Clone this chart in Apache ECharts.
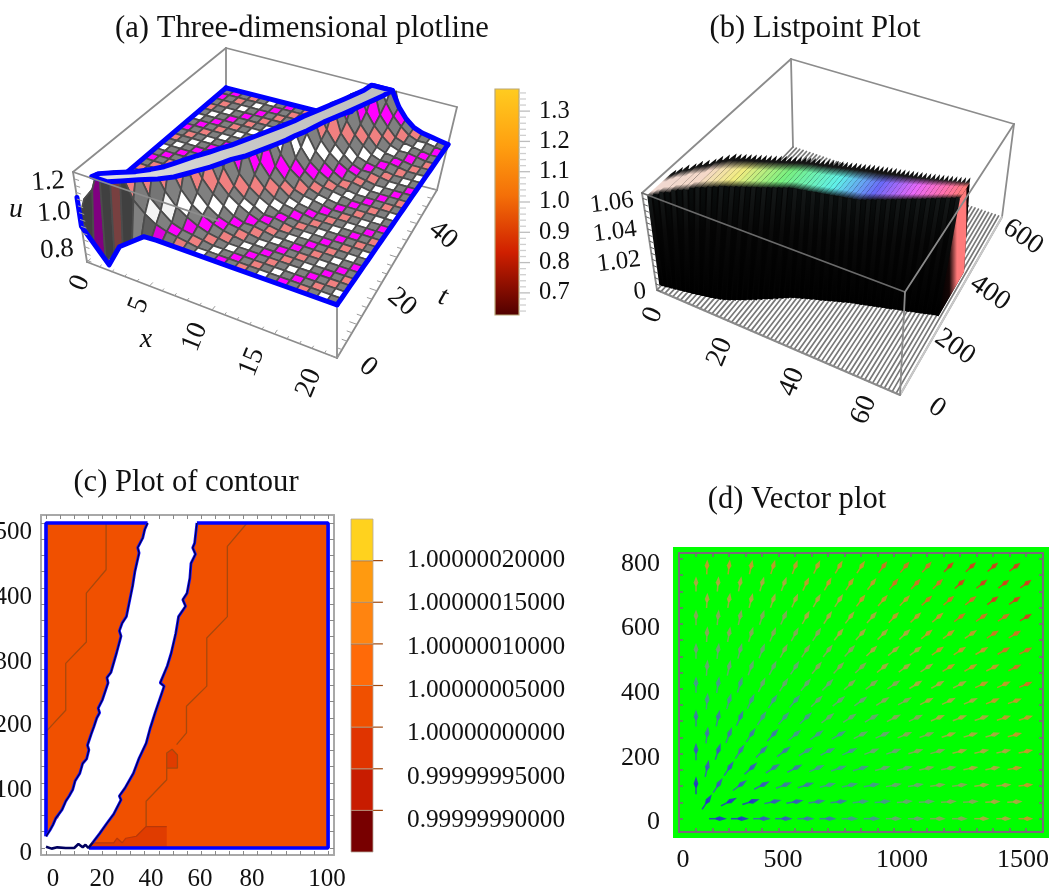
<!DOCTYPE html>
<html><head><meta charset="utf-8">
<style>html,body{margin:0;padding:0;background:#fff}#main{width:1049px;height:893px;filter:blur(0.45px)}</style>
<script src="https://cdn.jsdelivr.net/npm/echarts@6/dist/echarts.min.js"></script>
</head><body><div id="main"></div>
<script>
// ---------- panel (a) data ----------
const surfaceX=[0,.8,1.6,2.4,3.2,4,4.8,5.6,6.4,7.2,8,8.8,9.6,10.4,11.2,12,12.8,13.6,14.4,15.2,16,16.8,17.6,18.4,19.2,20];
const surfaceT=[0,2,4,6,8,10,12,14,16,18,20,22,24,26,28,30,32,34,36,38,40,42,44,46,48,50];
const surfaceU=[
[.98,.84,.76,.82,.9,.94,.985,1,1,1,1,1,1,1,1,1,1,1,1,1,1,1,1,1,1,1],
[1.05,1.13,1.3,1.3,1.3,1.15,1.09,1.05,1.03,1.02,1.01,1,1,1,1,1,1,1,1,1,1,1,1,1,1,1],
[1.02,1.04,1.1,1.3,1.3,1.3,1.16,1.1,1.05,1.03,1.02,1.01,1,1,1,1,1,1,1,1,1,1,1,1,1,1],
[1.01,1.01,1.03,1.08,1.2,1.3,1.3,1.18,1.11,1.07,1.04,1.02,1.01,1,1,1,1,1,1,1,1,1,1,1,1,1],
[1,1,1.01,1.03,1.09,1.22,1.3,1.3,1.18,1.11,1.07,1.04,1.02,1.01,1,1,1,1,1,1,1,1,1,1,1,1],
[1,1,1,1.02,1.05,1.11,1.3,1.3,1.3,1.15,1.09,1.05,1.03,1.02,1.01,1,1,1,1,1,1,1,1,1,1,1],
[1,1,1,1.01,1.03,1.08,1.18,1.3,1.3,1.2,1.13,1.08,1.04,1.02,1.02,1.01,1,1,1,1,1,1,1,1,1,1],
[1,1,1,1,1.02,1.05,1.11,1.3,1.3,1.3,1.17,1.11,1.07,1.04,1.02,1.01,1,1,1,1,1,1,1,1,1,1],
[1,1,1,1,1.01,1.03,1.08,1.18,1.3,1.3,1.22,1.13,1.08,1.05,1.02,1.02,1.01,1,1,1,1,1,1,1,1,1],
[1,1,1,1,1.01,1.02,1.04,1.1,1.3,1.3,1.3,1.17,1.11,1.07,1.04,1.02,1.01,1,1,1,1,1,1,1,1,1],
[1,1,1,1,1,1.01,1.03,1.07,1.16,1.3,1.3,1.3,1.15,1.09,1.05,1.03,1.02,1.01,1,1,1,1,1,1,1,1],
[1,1,1,1,1,1.01,1.02,1.04,1.09,1.22,1.3,1.3,1.19,1.12,1.08,1.04,1.02,1.01,1,1,1,1,1,1,1,1],
[1,1,1,1,1,1,1.01,1.02,1.06,1.15,1.3,1.3,1.3,1.15,1.09,1.05,1.03,1.02,1.01,1,1,1,1,1,1,1],
[1,1,1,1,1,1,1.01,1.02,1.04,1.09,1.22,1.3,1.3,1.19,1.12,1.08,1.04,1.02,1.01,1,1,1,1,1,1,1],
[1,1,1,1,1,1,1,1.01,1.02,1.06,1.15,1.3,1.3,1.3,1.15,1.09,1.05,1.03,1.02,1.01,1,1,1,1,1,1],
[1,1,1,1,1,1,1,1.01,1.02,1.04,1.09,1.22,1.3,1.3,1.18,1.11,1.07,1.04,1.02,1.01,1,1,1,1,1,1],
[1,1,1,1,1,1,1,1,1.01,1.02,1.06,1.15,1.3,1.3,1.23,1.14,1.09,1.05,1.02,1.02,1.01,1,1,1,1,1],
[1,1,1,1,1,1,1,1,1.01,1.02,1.04,1.09,1.22,1.3,1.3,1.17,1.11,1.07,1.04,1.02,1.01,1,1,1,1,1],
[1,1,1,1,1,1,1,1,1,1.01,1.03,1.07,1.16,1.3,1.3,1.2,1.13,1.08,1.04,1.02,1.02,1.01,1,1,1,1],
[1,1,1,1,1,1,1,1,1,1.01,1.02,1.04,1.1,1.3,1.3,1.3,1.16,1.1,1.05,1.03,1.02,1.01,1,1,1,1],
[1,1,1,1,1,1,1,1,1,1,1.01,1.03,1.07,1.16,1.3,1.3,1.2,1.13,1.08,1.04,1.02,1.02,1.01,1,1,1],
[1,1,1,1,1,1,1,1,1,1,1.01,1.02,1.04,1.1,1.3,1.3,1.3,1.16,1.1,1.05,1.03,1.02,1.01,1,1,1],
[1,1,1,1,1,1,1,1,1,1,1,1.01,1.03,1.07,1.16,1.3,1.3,1.2,1.13,1.08,1.04,1.02,1.02,1.01,1,1],
[1,1,1,1,1,1,1,1,1,1,1,1.01,1.02,1.04,1.1,1.3,1.3,1.3,1.16,1.1,1.05,1.03,1.02,1.01,1,1],
[1,1,1,1,1,1,1,1,1,1,1,1,1.01,1.03,1.07,1.16,1.3,1.3,1.2,1.13,1.08,1.04,1.02,1.02,1.01,1],
[1,1,1,1,1,1,1,1,1,1,1,1,1.01,1.02,1.05,1.13,1.3,1.3,1.3,1.15,1.09,1.05,1.03,1.02,1.01,1]];
const plateauT=[.5,2,4,6,8,10,12,14,16,18,20,22,24,26,28,30,32,34,36,38,40,42,44,46,48,50];
const plateauL=[1.3,1.5,2.4,3.4,4.1,4.7,5.1,5.5,5.9,6.4,6.8,7.3,7.7,8.1,8.5,8.9,9.3,9.7,10,10.4,10.8,11.2,11.6,12,12.4,12.6];
const plateauR=[2.5,3.2,4.1,5.1,5.9,6.4,6.9,7.4,7.8,8.2,8.8,9.2,9.6,10,10.4,10.7,11.1,11.4,11.7,12.1,12.5,12.9,13.3,13.7,14.1,14.4];
const frontEdgeX=[0,0,1.84,2.9,4,5,6,8,12,16,20];
const frontEdgeU=[1.09,.92,.745,.88,.94,.995,1,1,1,1,1];
const clipU=1.24;
const xTicksA=['0','5','10','15','20'], tTicksA=['0','20','40'], uTicksA=['0.8','1.0','1.2'];
// ---------- panel (b) data ----------
const blockFoot=[20,22,25,27,30,32,35,37,40,43,46,49,52,56,60,66,73,80,87,95,102,110,118,125,133,141,149,156,161,166,171,175,180,184,189,193,198,202,206,211,215,218,221,225,228,231,234,238,241,244,248,251,254,257,261,264,267,270,274,277,280];
const blockCrest=[26,35,44,52,61,70,78,87,96,104,113,121,130,136,142,148,154,160,166,172,178,184,190,196,202,208,211,213,216,218,221,224,226,229,231,234,237,239,242,244,247,253,259,265,271,276,282,288,294,300,306,312,317,323,329,335,341,347,352,358,364];
const blockBack=[130,142,154,167,179,191,203,216,228,240,245,250,255,260,265,270,275,280,285,290,295,300,305,310,313,317,320,323,327,330,333,337,340,343,347,350,353,357,360,363,365,368,370,373,375,378,380,383,385,388,390,393,396,399,402,405,408,411,414,417,420];
const blockTop=[1.058,1.059,1.06,1.06,1.061,1.061,1.061,1.062,1.062,1.062,1.062,1.062,1.062,1.062,1.062,1.062,1.062,1.062,1.062,1.062,1.062,1.062,1.062,1.062,1.062,1.062,1.062,1.062,1.062,1.062,1.062,1.062,1.062,1.062,1.062,1.062,1.062,1.062,1.062,1.062,1.062,1.062,1.062,1.062,1.062,1.062,1.062,1.062,1.062,1.062,1.062,1.062,1.062,1.062,1.062,1.062,1.062,1.062,1.062,1.062,1.062];
const xTicksB=['0','20','40','60'], tTicksB=['0','200','400','600'], uTicksB=['0','1.02','1.04','1.06'];
// ---------- panel (c) data ----------
const leftEdge=[[0,18],[1.5,28],[2.5,36],[3.5,46],[4.2,45],[5.7,59],[7,72],[8.2,80],[9.5,90],[10.3,103],[12,115],[13,130],[14.4,137],[15.2,151],[14.7,158],[16,175],[17,187],[18,200],[19,208],[18.5,215],[20,228],[22,254],[21.6,262],[23,270],[24,285],[25,300],[26.6,326],[26,334],[27,346],[28.5,356],[30.7,403],[31.5,425],[33,454],[32.5,462],[34.3,477],[35,490],[36,500]];
const rightEdge=[[16.5,8],[19,22],[21.6,38],[24,52],[26.6,74],[26,80],[28,92],[31,115],[33,138],[35.5,161],[37,185],[38.7,208],[41.9,249],[40.5,254],[43,280],[44.4,300],[46,330],[47,356],[49.5,372],[48.5,382],[50,392],[51,415],[51.4,438],[53,452],[52,462],[52.7,469],[53.5,500]];
const bottomEdge=[[0,2],[2,-1],[4,1],[7,0],[10,0],[11.5,6],[13,1],[14,5],[15,0],[16.5,8]];
const contourA=[[0,179],[7,212],[7,284],[14.3,317],[14.3,392],[21.3,428],[21.3,500]];
const contourB=[[46.3,159],[49.8,177],[49.8,218],[57,249],[57,323],[64.3,356],[64.3,464],[71.3,500]];
const contourC=[[35.5,33],[35.5,72],[42.8,105],[42.8,146],[44.7,152],[46.6,143],[46.6,123],[42.8,123]];
const lowRegion=[[16.5,8],[24,8],[25.2,15],[27,8],[28.3,15],[32,18],[35.5,33],[42.8,33],[42.8,0],[15.2,0]];
const lowSpot=[[42.8,146],[44.7,152],[46.6,143],[46.6,123],[42.8,123]];
const legendLevels=[.99999985,.9999999,.99999995,1,1.00000005,1.0000001,1.00000015,1.0000002,1.00000025];
const legendColors=['#780000','#C81C00','#E03400','#F05000','#FF6A08','#FF8410','#FF9A10','#FFD21E'];
const legendLabels=['1.00000020000','1.00000015000','1.00000010000','1.00000005000','1.00000000000','0.99999995000','0.99999990000'];
const xLabelsC=['0','20','40','60','80','100'], yLabelsC=['500','400','300','200','100','0'];
// ---------- panel (d) data ----------
const arrowRowY=[0,52,103,155,207,258,310,362,413,465,517,568,620,672,723,775];
const arrowAngle=[
[0,0,0,0,0,0,0,0,0,0,0,0,0,0,0],
[57,27,17,12,10,8,7,6,5,5,4,4,4,3,3],
[90,57,37,27,21,17,14,12,11,10,9,8,7,7,6,6],
[78,57,43,33,27,23,19,17,15,14,12,11,10,10,9],
[90,72,57,46,37,31,27,24,21,19,17,16,14,13,12,12],
[83,69,57,48,40,35,30,27,24,22,20,18,17,16,15],
[90,78,66,57,49,43,37,33,30,27,25,23,21,19,18,17],
[85,74,65,57,50,44,39,36,32,29,27,25,23,22,20],
[90,81,72,64,57,51,46,41,37,34,31,29,27,25,24,22],
[86,78,70,63,57,51,47,43,39,36,33,31,29,27,25],
[90,83,75,69,62,57,52,48,44,40,37,35,33,30,29,27],
[87,80,73,67,62,57,52,48,45,42,39,36,34,32,30],
[90,84,78,72,66,61,57,53,49,46,43,40,37,35,33,31],
[87,81,76,71,66,61,57,53,49,46,43,41,38,36,34],
[90,85,79,74,70,65,61,57,53,50,47,44,42,39,37,36],
[88,83,78,73,69,64,60,57,53,50,48,45,43,40,38]];
const arrowSpeed=['001122334455667','000112233445566','0111223334455667','111223334455667','1122233344556667','222233344556667','2223334445566677','333334445566677','3334444555666778','444445556667778','4444555566677788','555555666677788','5555566667778889','666666677788899','6666677778889999','777777778889999'];
const arrowPalette=['#2A2AD0','#3C50C8','#4470B0','#4C9098','#70A078','#90A060','#B8A048','#D09030','#DC6828','#E03020'];
const xLabelsD=['0','500','1000','1500'], yLabelsD=['800','600','400','200','0'];
// ---------- panel (a) colour bar ----------
const barLabels=[.7,.8,.9,1,1.1,1.2,1.3];
const barMinor=[.64,.66,.68,.7,.72,.74,.76,.78,.8,.82,.84,.86,.88,.9,.92,.94,.96,.98,1,1.02,1.04,1.06,1.08,1.1,1.12,1.14,1.16,1.18,1.2,1.22,1.24,1.26,1.28,1.3,1.32,1.34,1.36];
const tickC_X=[0,5,10,15,20,25,30,35,40,45,50,55,60,65,70,75,80,85,90,95,100];
const tickC_Y=[0,25,50,75,100,125,150,175,200,225,250,275,300,325,350,375,400,425,450,475,500];
const tickD_X=[0,75,150,225,300,375,450,525,600,675,750,825,900,975,1050,1125,1200,1275,1350,1425,1500];
const tickD_Y=[0,50,100,150,200,250,300,350,400,450,500,550,600,650,700,750,800];

// ---------- layout ----------
const serif='"Liberation Serif","Times New Roman",serif';
function makeProj(b,t,xr,tr,ur){
  return (x,tt,u)=>{
    const fx=(x-xr[0])/(xr[1]-xr[0]),ft=(tt-tr[0])/(tr[1]-tr[0]),fu=(u-ur[0])/(ur[1]-ur[0]);
    const bl=c=>{const q=k=>(c[0][k]*(1-fx)+c[1][k]*fx)*(1-ft)+(c[3][k]*(1-fx)+c[2][k]*fx)*ft;return [q(0),q(1)];};
    const p=bl(b),r=bl(t);
    return [p[0]*(1-fu)+r[0]*fu,p[1]*(1-fu)+r[1]*fu];
  };
}
const pA=makeProj([[87,262],[337,358],[437,190],[226,136]],[[73,172],[337,261],[457,107],[226,48]],[0,20],[0,50],[.71,1.24]);
const pB=makeProj([[657,290],[900,395],[1002,217],[793,147]],[[642,193],[905,292],[1014,124],[791,59]],[0,62],[0,650],[1,1.0635]);

function shade(hex,f){const n=parseInt(hex.slice(1),16);const c=[n>>16&255,n>>8&255,n&255].map(v=>Math.round(v*f));return `rgb(${c[0]},${c[1]},${c[2]})`;}
function clipPoly(v,lim){const o=[];for(let k=0;k<v.length;k++){const a=v[k],b=v[(k+1)%v.length];const ia=a[2]<=lim,ib=b[2]<=lim;if(ia)o.push(a);if(ia!==ib){const s=(lim-a[2])/(b[2]-a[2]);o.push([a[0]+(b[0]-a[0])*s,a[1]+(b[1]-a[1])*s,lim]);}}return o;}

// generic drawing through the hidden full-page pixel axes
function polys(items,z){
  return {type:'custom',xAxisIndex:0,yAxisIndex:0,z:z||2,silent:true,progressive:0,clip:false,animation:false,
    data:items.map((_,i)=>[i,0]),encode:{x:0,y:1},
    renderItem:(p,api)=>{const it=items[p.dataIndex];
      const pts=it.pts.map(q=>api.coord(q));
      return {type:it.closed===false?'polyline':'polygon',shape:{points:pts},
        style:{fill:it.closed===false?'none':it.fill,stroke:it.stroke||null,lineWidth:it.lw||0,lineJoin:'round',lineCap:'round'}};}};
}
function texts(items,z){
  return {type:'custom',xAxisIndex:0,yAxisIndex:0,z:z||5,silent:true,progressive:0,clip:false,animation:false,
    data:items.map((_,i)=>[i,0]),encode:{x:0,y:1},
    renderItem:(p,api)=>{const it=items[p.dataIndex];const c=api.coord([it.x,it.y]);
      return {type:'text',x:c[0],y:c[1],rotation:(it.r||0)*Math.PI/180,
        style:{text:it.t,fontFamily:serif,fontSize:it.s||25,fontStyle:it.i?'italic':'normal',fill:'#111',align:it.a||'center',verticalAlign:'middle'}};}};
}
const series=[];
const boxGrey='#8c8c8c';
// --- panel a ---
{
  const seg=(a,b,c,lw)=>({pts:[pA(...a),pA(...b)],closed:false,stroke:c||boxGrey,lw:lw||1.8});
  const back=[seg([0,50,.71],[0,50,1.24]),seg([0,50,1.24],[20,50,1.24]),seg([0,0,1.24],[0,50,1.24]),seg([0,0,.71],[0,0,1.24]),seg([20,50,.71],[20,50,1.24]),seg([20,50,.71],[14,50,.71])];
  series.push(polys(back,2));
  const cols=['#FF00FF','#F08080','#FFFFFF'];
  const cells=[];
  for(let i=0;i<surfaceX.length-1;i++)for(let j=surfaceT.length-2;j>=0;j--){
    const U=surfaceU;
    const v=[[surfaceX[i],surfaceT[j],U[j][i]],[surfaceX[i+1],surfaceT[j],U[j][i+1]],[surfaceX[i+1],surfaceT[j+1],U[j+1][i+1]],[surfaceX[i],surfaceT[j+1],U[j+1][i]]];
    const c=clipPoly(v,clipU); if(c.length<3)continue;
    const base=(i+j)%2===0?'#808080':cols[(((i-j-1)/2)%3+3)%3];
    const du=(U[j][i+1]+U[j+1][i+1]-U[j][i]-U[j+1][i])/2/.8;
    const dt=(U[j+1][i]+U[j+1][i+1]-U[j][i]-U[j][i+1])/2/2;
    const k=1-0.5*Math.max(0,Math.min(1,(dt*2.5-Math.max(0,-du))/.15));
    cells.push({pts:c.map(q=>pA(...q)),fill:shade(base,k),stroke:'#4c4c4c',lw:1.7});
  }
  series.push(polys(cells,3));
  const blue='#0000FF';
  const edge=[];
  edge.push({pts:surfaceT.slice(8).map((t,j)=>pA(0,t,surfaceU[j+8][0])),closed:false,stroke:blue,lw:5});
  edge.push({pts:surfaceX.map((x,i)=>pA(x,50,Math.min(clipU,surfaceU[25][i]))),closed:false,stroke:blue,lw:5});
  edge.push({pts:surfaceT.map((t,j)=>pA(20,t,surfaceU[j][25])),closed:false,stroke:blue,lw:5});
  edge.push({pts:frontEdgeX.map((x,i)=>pA(x,0,frontEdgeU[i])),closed:false,stroke:blue,lw:5});
  series.push(polys(edge,3));
  const top=[];
  plateauT.forEach((t,j)=>top.push(pA(plateauL[j],t,clipU)));
  for(let j=plateauT.length-1;j>=0;j--)top.push(pA(plateauR[j],plateauT[j],clipU));
  series.push(polys([{pts:top,fill:{type:'linear',x:0,y:1,x2:1,y2:0,colorStops:[{offset:0,color:'#E4E4E4'},{offset:.5,color:'#C8C8C8'},{offset:1,color:'#BEBEBE'}]},stroke:blue,lw:5}],3));
  const front=[seg([0,0,1.24],[11,0,1.24]),seg([0,0,.71],[20,0,.71]),seg([20,0,.71],[20,50,.71]),seg([20,0,.71],[20,0,.98])];
  const xs=[];for(let x=0;x<=20;x+=1)xs.push(seg([x,0,.71],[x,x%5===0?1.2:.7,.71],'#9a9a9a',1));
  for(let t=0;t<=50;t+=2.5)xs.push(seg([20,t,.71],[t%10===0?19.4:19.6,t,.71],'#9a9a9a',1));
  for(let u=.72;u<=1.24;u+=.04)xs.push(seg([0,0,u],[.35,0,u],'#9a9a9a',1));
  series.push(polys(front.concat(xs),4));
  series.push(texts([
    ...[[80,283],[139,305],[195,337],[252,362],[309,383]].map((q,i)=>({x:q[0],y:q[1],t:xTicksA[i],r:68,s:28})),
    ...[[368,367],[402,302],[443,235]].map((q,i)=>({x:q[0],y:q[1],t:tTicksA[i],r:-40,s:28})),
    ...[[57,250],[54,213],[48,182]].map((q,i)=>({x:q[0],y:q[1],t:uTicksA[i],r:4,s:27})),
    {x:146,y:340,t:'x',i:1,s:28},{x:443,y:297,t:'t',i:1,s:28,r:-20},{x:16,y:210,t:'u',i:1,s:28}
  ]));
}
// --- panel b ---
{
  const seg=(a,b,c,lw)=>({pts:[pB(...a),pB(...b)],closed:false,stroke:c||boxGrey,lw:lw||1.8});
  const back=[seg([0,650,1],[0,650,1.0635]),seg([0,650,1.0635],[62,650,1.0635]),seg([0,0,1.0635],[0,650,1.0635]),seg([62,650,1],[62,650,1.0635]),seg([0,0,1],[0,0,1.0635])];
  const floor=[];for(let x=0;x<=62;x++)floor.push({pts:[pB(x,0,1),pB(x,650,1)],closed:false,stroke:'#787878',lw:1.7});
  floor.push(seg([62,0,1],[62,650,1],'#c8c8c8',2),seg([0,0,1],[62,0,1],'#8a8a8a',2));
  series.push(polys(back.concat(floor),2));
  const hue=[[0,'#F0D8D0'],[7,'#F5D8C8'],[13,'#F0EC80'],[22,'#78F080'],[33,'#60F0E8'],[42,'#6A6AF8'],[50,'#E868F8'],[56,'#FF70B0'],[60,'#FF7A7A']];
  const mix=(i)=>{let a=hue[0],b=hue[hue.length-1];for(let k=0;k<hue.length-1;k++)if(i>=hue[k][0]&&i<=hue[k+1][0]){a=hue[k];b=hue[k+1];break;}
    const f=(i-a[0])/(b[0]-a[0]||1),pa=parseInt(a[1].slice(1),16),pb=parseInt(b[1].slice(1),16);
    const g=s=>Math.round((pa>>s&255)*(1-f)+(pb>>s&255)*f);return `rgb(${g(16)},${g(8)},${g(0)})`;};
  const items=[];
  const last=blockFoot.length-1;
  // solid dark silhouette behind the columns
  const under=[];
  blockFoot.forEach((foot,i)=>under.push(pB(i,foot,1)));
  under.push(pB(last+.5,blockFoot[last],1),pB(last+.5,blockBack[last]+22,1),pB(last+.5,blockBack[last],blockTop[last]));
  for(let i=last;i>=0;i--)under.push(pB(i,blockBack[i],blockTop[i]));
  under.push(pB(0,blockCrest[0],blockTop[0]));
  items.push({pts:under,fill:'#040404'});
  blockFoot.forEach((foot,i)=>{
    const w=.5,crest=blockCrest[i],backT=blockBack[i],z=blockTop[i],c=mix(i);
    items.push({pts:[pB(i-w,crest,z),pB(i+w,crest,z),pB(i+w,backT,z),pB(i,backT+16,z+.001),pB(i-w,backT,z)],
      fill:{type:'linear',x:0,y:1,x2:0,y2:0,colorStops:[{offset:0,color:'#0a0c0c'},{offset:.22,color:c},{offset:.55,color:c},{offset:.8,color:'#181818'},{offset:1,color:'#000'}]}});
    items.push({pts:[pB(i-w,foot,1),pB(i+w,foot,1),pB(i+w,crest,z),pB(i-w,crest,z)],
      fill:{type:'linear',x:0,y:1,x2:0,y2:0,colorStops:[{offset:0,color:'#000'},{offset:.6,color:i%2?'#040404':'#0a0a0a'},{offset:1,color:i%2?'#0a0e0e':'#141818'}]}});
  });
  items.push({pts:[pB(last+.5,blockFoot[last],1),pB(last+.5,blockCrest[last],blockTop[last]),pB(last+.5,blockBack[last],blockTop[last]),pB(last+.5,blockBack[last]+22,1)],
    fill:{type:'linear',x:0,y:0,x2:1,y2:0,colorStops:[{offset:0,color:'#000'},{offset:.35,color:'#150606'},{offset:.6,color:'#FF7A7A'},{offset:.88,color:'#FF7A7A'},{offset:.92,color:'#100404'},{offset:1,color:'#000'}]}});
  series.push(polys(items,3));
  const front=[seg([0,0,1.0635],[62,0,1.0635],'#6a6a6a',1.8),seg([62,0,1.0635],[62,650,1.0635],'#8a8a8a',1.8),seg([62,0,1],[62,0,1.0635],'#8a8a8a',1.8)];
  for(let u=1;u<=1.0635;u+=.004)front.push(seg([0,0,u],[.9,0,u],'#666',1));
  series.push(polys(front,4));
  series.push(texts([
    ...[[653,315],[720,352],[792,382],[864,410]].map((q,i)=>({x:q[0],y:q[1],t:xTicksB[i],r:68,s:28})),
    ...[[937,408],[955,347],[990,293],[1023,237]].map((q,i)=>({x:q[0],y:q[1],t:tTicksB[i],r:-35,s:28})),
    ...[[640,292],[619,262],[615,232],[612,203]].map((q,i)=>({x:q[0],y:q[1],t:uTicksB[i],r:7,s:25}))
  ]));
}
// --- colour bar a ---
series.push({type:'custom',xAxisIndex:1,yAxisIndex:1,z:2,silent:true,animation:false,clip:false,data:[[0,.627,1,1.373]],encode:{x:[0,2],y:[1,3]},
  renderItem:(p,api)=>{const a=api.coord([api.value(0),api.value(1)]),b=api.coord([api.value(2),api.value(3)]);
    const kids=[{type:'rect',shape:{x:a[0],y:b[1],width:b[0]-a[0],height:a[1]-b[1]},style:{stroke:'#b9a878',lineWidth:1.2,
      fill:{type:'linear',x:0,y:0,x2:0,y2:1,colorStops:[{offset:0,color:'#FFCC20'},{offset:.25,color:'#FFA010'},{offset:.47,color:'#F47008'},{offset:.72,color:'#D02000'},{offset:1,color:'#500000'}]}}}];
    barMinor.forEach(v=>{const q=api.coord([1,v]);const major=barLabels.some(m=>Math.abs(m-v)<1e-6);
      kids.push({type:'line',shape:{x1:q[0],y1:q[1],x2:q[0]+(major?11:7),y2:q[1]},style:{stroke:major?'#bdbdbd':'#cfcfcf',lineWidth:1.3}});});
    return {type:'group',children:kids};}});
// --- panel c ---
const C={xAxisIndex:2,yAxisIndex:2};
const regionSeries=(pts,color,z)=>({type:'custom',...C,z:z,silent:true,animation:false,clip:false,progressive:0,data:pts,encode:{x:0,y:1},
  renderItem:(p,api)=>p.dataIndex===0?{type:'polygon',shape:{points:pts.map(q=>api.coord(q))},style:{fill:color}}:null});
const lineSeries=(pts,color,w,z)=>({type:'line',...C,data:pts,showSymbol:false,silent:true,animation:false,clip:false,z:z,lineStyle:{color:color,width:w}});
const leftRegion=[...leftEdge,[0,500]];
const rightRegion=[...rightEdge,[100,500],[100,0],[15.2,0]];
series.push(regionSeries(leftRegion,'#F05000',2),regionSeries(rightRegion,'#F05000',2),regionSeries(lowRegion,'#E03C00',3),regionSeries(lowSpot,'#E03C00',3));
series.push(lineSeries(contourA,'#A8480C',1.3,4),lineSeries(contourB,'#A8480C',1.3,4),lineSeries(contourC,'#A8480C',1.3,4),lineSeries(lowRegion.slice(0,8),'#B83808',1.2,4));
series.push(lineSeries([[0,18],[0,500],[36,500]],'#0000FF',3.6,5),lineSeries([[53.5,500],[100,500],[100,0],[15.2,0]],'#0000FF',3.6,5));
series.push(lineSeries(leftEdge,'#1010FF',2.8,5),lineSeries(rightEdge,'#1010FF',2.8,5));
series.push(lineSeries(leftEdge,'#000050',1.3,6),lineSeries(rightEdge,'#000050',1.3,6),lineSeries(bottomEdge,'#000060',2.6,6));
// --- legend c ---
series.push({type:'custom',xAxisIndex:4,yAxisIndex:4,z:2,silent:true,animation:false,clip:false,data:legendColors.map((c,i)=>[0,legendLevels[i],1,legendLevels[i+1]]),encode:{x:[0,2],y:[1,3]},
  renderItem:(p,api)=>{const i=p.dataIndex;const a=api.coord([0,legendLevels[i]]),b=api.coord([1,legendLevels[i+1]]),e=api.coord([1.45,legendLevels[i+1]]);
    const kids=[{type:'rect',shape:{x:a[0],y:b[1],width:b[0]-a[0],height:a[1]-b[1]},style:{fill:legendColors[i],stroke:'#b5a89a',lineWidth:.8}}];
    if(i<legendColors.length-1)kids.push({type:'line',shape:{x1:a[0],y1:b[1],x2:e[0],y2:b[1]},style:{stroke:'#A04A10',lineWidth:1.2}});
    return {type:'group',children:kids};}});
series.push(texts([
  ...[560,603,647,690,733,777,820].map((y,i)=>({x:407,y:y,t:legendLabels[i],a:'left',s:25.3})),
  ...[53,102,151,200,252,327].map((x,i)=>({x:x,y:879,t:xLabelsC[i],s:25})),
  ...[532,597,662,725,790,853].map((y,i)=>({x:32,y:y,t:yLabelsC[i],a:'right',s:25}))
]));
// --- panel d ---
const arrows=[];
arrowRowY.forEach((y,r)=>{arrowAngle[r].forEach((a,k)=>{
  const c=r%2?2*k+1:(r===0?2*k+2:2*k);
  arrows.push([c*50,y,a,+arrowSpeed[r][k]]);
});});
series.push({type:'custom',xAxisIndex:5,yAxisIndex:5,z:3,silent:true,animation:false,progressive:0,clip:false,data:arrows,encode:{x:0,y:1},
  renderItem:(p,api)=>{const c=api.coord([api.value(0),api.value(1)]),a=api.value(2)*Math.PI/180,d=api.value(3);
    const L=18-d*.45,ux=Math.cos(a),uy=-Math.sin(a),nx=-uy,ny=ux,hw=2.4,col=arrowPalette[d];
    const P=(s,n)=>[c[0]+ux*s+nx*n,c[1]+uy*s+ny*n];
    return {type:'group',children:[
      {type:'polyline',shape:{points:[P(-L/2,0),P(L*.1,0)]},style:{stroke:col,lineWidth:1.5,fill:'none',opacity:.8}},
      {type:'polygon',shape:{points:[P(-L*.12,hw*.35),P(L*.08,hw),P(L/2,0),P(L*.08,-hw),P(-L*.12,-hw*.35)]},style:{fill:col,opacity:.85}}
    ]};}});
series.push(texts([
  ...[683,783,902,1023].map((x,i)=>({x:x,y:860,t:xLabelsD[i],s:26})),
  ...[564,628,693,758,822].map((y,i)=>({x:660,y:y,t:yLabelsD[i],a:'right',s:26}))
]));

const frame=(color,w)=>({show:true,onZero:false,lineStyle:{color:color,width:w}});
const hidden={show:false};
const tStyle={fontFamily:serif,fontWeight:'normal',fontSize:30.6,color:'#111'};
const option={
  animation:false,backgroundColor:'#fff',
  title:[
    {text:'(a) Three-dimensional plotline',left:297,top:8,textAlign:'center',textStyle:tStyle},
    {text:'(b) Listpoint Plot',left:810,top:8,textAlign:'center',textStyle:tStyle},
    {text:'(c) Plot of contour',left:181,top:462,textAlign:'center',textStyle:tStyle},
    {text:'(d) Vector plot',left:792,top:479,textAlign:'center',textStyle:tStyle}
  ],
  grid:[
    {left:0,top:0,width:1049,height:893},
    {left:495,top:89,width:24,height:226},
    {left:41,top:515,width:293,height:340},
    {left:351,top:519,width:22,height:333},
    {left:679,top:553,width:364,height:279,show:true,backgroundColor:'#00FF00',borderColor:'#00FF00',borderWidth:12}
  ],
  xAxis:[
    {gridIndex:0,type:'value',min:0,max:1049,show:false},
    {gridIndex:1,type:'value',min:0,max:1,show:false},
    {gridIndex:2,type:'value',min:-1.77,max:102.1,position:'bottom',axisLine:frame('#a8a8a8',2),axisTick:{customValues:tickC_X,inside:true,length:4,lineStyle:{color:'#888'}},axisLabel:hidden,splitLine:hidden},
    {gridIndex:2,type:'value',min:-1.77,max:102.1,position:'top',axisLine:frame('#a8a8a8',2),axisTick:{customValues:tickC_X,inside:true,length:4,lineStyle:{color:'#888'}},axisLabel:hidden,splitLine:hidden},
    {gridIndex:3,type:'value',min:0,max:1,show:false},
    {gridIndex:4,type:'value',min:-77.3,max:1577.7,position:'bottom',axisLine:frame('#7A6A7A',2),axisTick:{customValues:tickD_X,inside:true,length:4,lineStyle:{color:'#7A6A7A',width:1.5}},axisLabel:hidden,splitLine:hidden},
    {gridIndex:4,type:'value',min:-77.3,max:1577.7,position:'top',axisLine:frame('#7A6A7A',2),axisTick:{customValues:tickD_X,inside:true,length:4,lineStyle:{color:'#7A6A7A',width:1.5}},axisLabel:hidden,splitLine:hidden}
  ],
  yAxis:[
    {gridIndex:0,type:'value',min:0,max:893,inverse:true,show:false},
    {gridIndex:1,type:'value',min:.627,max:1.373,position:'right',axisLine:{show:false},splitLine:hidden,axisTick:{show:false},
      axisLabel:{customValues:barLabels,formatter:v=>v.toFixed(1),margin:20,fontFamily:serif,fontSize:24.5,color:'#111'}},
    {gridIndex:2,type:'value',min:-10.8,max:512.3,position:'left',axisLine:frame('#a8a8a8',2),axisTick:{customValues:tickC_Y,inside:true,length:4,lineStyle:{color:'#888'}},axisLabel:hidden,splitLine:hidden},
    {gridIndex:2,type:'value',min:-10.8,max:512.3,position:'right',axisLine:frame('#a8a8a8',2),axisTick:{customValues:tickC_Y,inside:true,length:4,lineStyle:{color:'#888'}},axisLabel:hidden,splitLine:hidden},
    {gridIndex:3,type:'value',min:legendLevels[0],max:legendLevels[8],show:false,scale:true},
    {gridIndex:4,type:'value',min:-41,max:818,position:'left',axisLine:frame('#7A6A7A',2),axisTick:{customValues:tickD_Y,inside:true,length:4,lineStyle:{color:'#7A6A7A',width:1.5}},axisLabel:hidden,splitLine:hidden},
    {gridIndex:4,type:'value',min:-41,max:818,position:'right',axisLine:frame('#7A6A7A',2),axisTick:{customValues:tickD_Y,inside:true,length:4,lineStyle:{color:'#7A6A7A',width:1.5}},axisLabel:hidden,splitLine:hidden}
  ],
  series:series
};
const chart=echarts.init(document.getElementById('main'),null,{renderer:'canvas'});
chart.setOption(option);
</script></body></html>
